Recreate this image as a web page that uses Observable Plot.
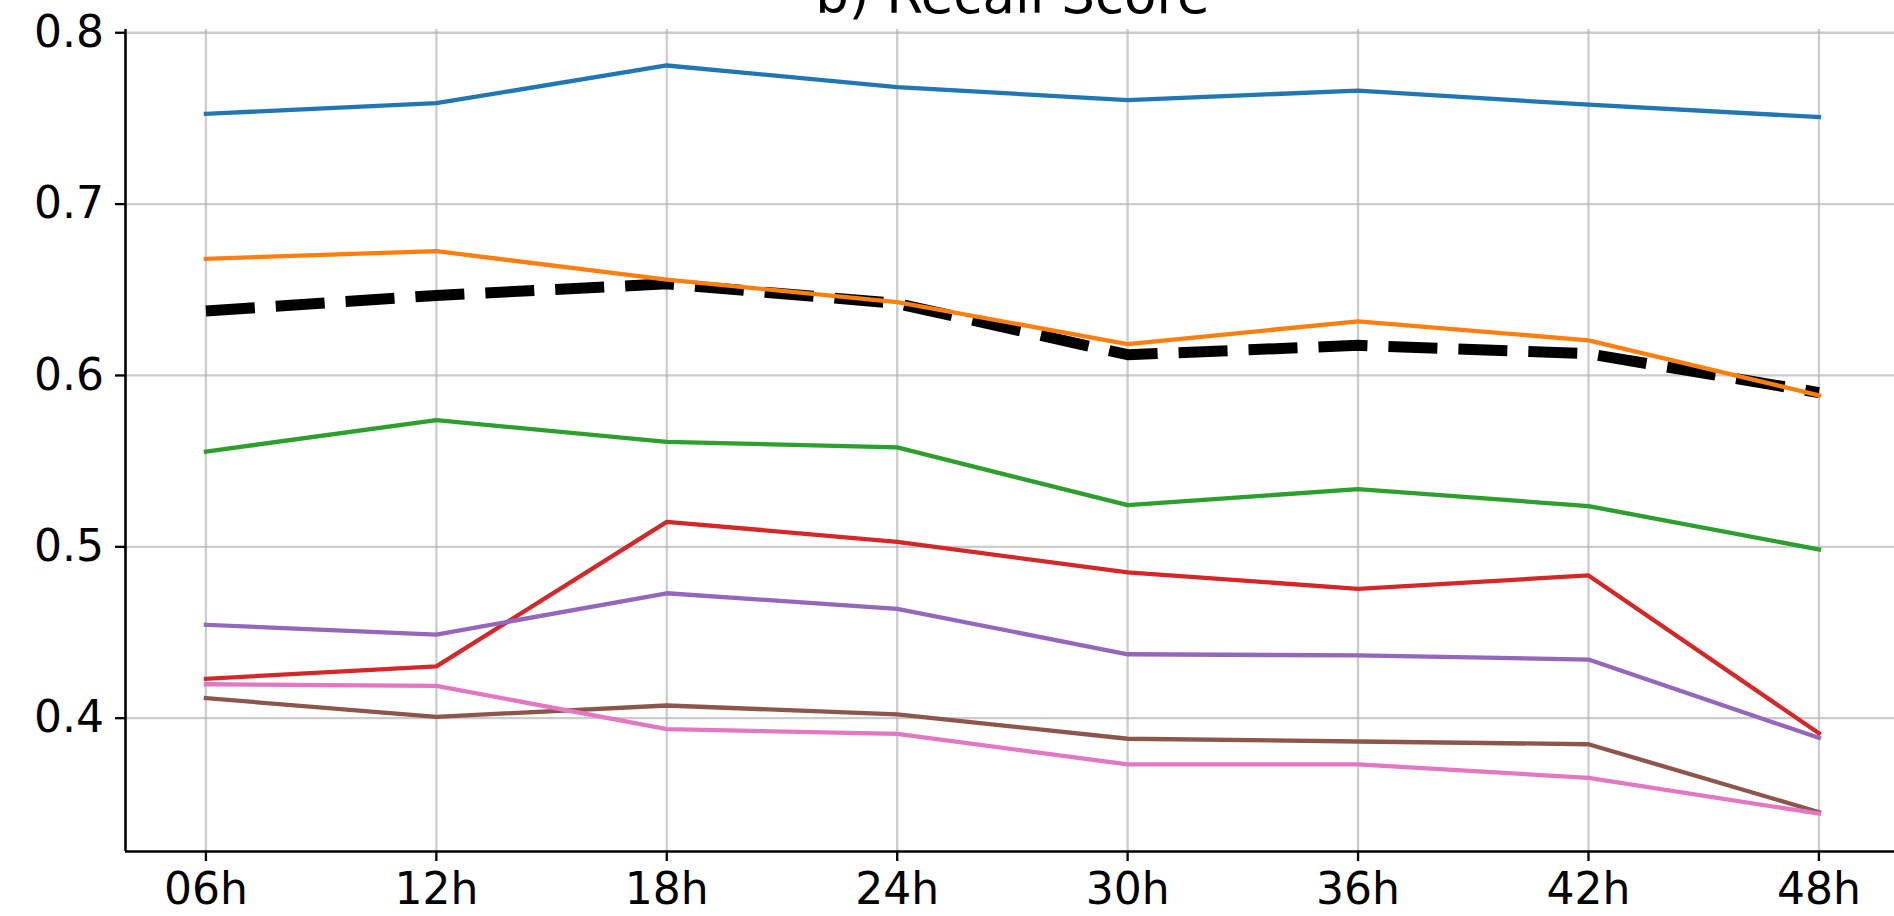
<!DOCTYPE html>
<html>
<head>
<meta charset="utf-8">
<script src="https://cdn.jsdelivr.net/npm/d3@7"></script>
<script src="https://cdn.jsdelivr.net/npm/@observablehq/plot@0.6"></script>
<style>
  html, body { margin: 0; padding: 0; background: #ffffff; overflow: hidden; }
  #chart svg { display: block; max-width: none; }
</style>
</head>
<body>
<div id="chart"></div>
<script>
// ---- data ----
const title = "b) Recall Score";
const hours = ["06h", "12h", "18h", "24h", "30h", "36h", "42h", "48h"];
const yTicks = [0.4, 0.5, 0.6, 0.7, 0.8];

const reference = [0.6376, 0.6467, 0.6535, 0.6420, 0.6121, 0.6176, 0.6127, 0.5900];
const model1 = [0.7527, 0.7589, 0.7809, 0.7683, 0.7607, 0.7662, 0.7580, 0.7508];
const model2 = [0.6681, 0.6726, 0.6559, 0.6428, 0.6183, 0.6316, 0.6205, 0.5884];
const model3 = [0.5556, 0.5739, 0.5613, 0.5580, 0.5243, 0.5337, 0.5238, 0.4985];
const model4 = [0.4230, 0.4302, 0.5146, 0.5029, 0.4851, 0.4755, 0.4833, 0.3912];
const model5 = [0.4545, 0.4488, 0.4729, 0.4638, 0.4373, 0.4366, 0.4342, 0.3885];
const model6 = [0.4117, 0.4008, 0.4074, 0.4022, 0.3880, 0.3864, 0.3848, 0.3452];
const model7 = [0.4198, 0.4189, 0.3936, 0.3909, 0.3730, 0.3730, 0.3652, 0.3443];

const seriesNames = ["Model 1", "Model 2", "Model 3", "Model 4", "Model 5", "Model 6", "Model 7"];
const seriesValues = [model1, model2, model3, model4, model5, model6, model7];
const seriesColors = ["#1f77b4", "#ff7f0e", "#2ca02c", "#d62728", "#9467bd", "#8c564b", "#e377c2"];

// ---- tidy tables built from the arrays ----
const idx = hours.map((_, i) => i);
const refRows = reference.map((v, i) => ({i, v}));
const rows = seriesValues.flatMap((vals, s) => vals.map((v, i) => ({i, v, s: seriesNames[s]})));

const font = "DejaVu Sans, sans-serif";
const xDomain = [-0.349, 7.328];
const yDomain = [0.3222, 0.8019];

const chart = Plot.plot({
  width: 1894,
  height: 916,
  marginLeft: 125,
  marginRight: 0,
  marginTop: 29,
  marginBottom: 65,
  style: {fontFamily: font, background: "#ffffff", color: "#000000"},
  x: {type: "linear", domain: xDomain, label: null},
  y: {type: "linear", domain: yDomain, label: null},
  color: {domain: seriesNames, range: seriesColors},
  marks: [
    Plot.gridX({ticks: idx, stroke: "#b0b0b0", strokeOpacity: 0.65, strokeWidth: 2.3}),
    Plot.gridY({ticks: yTicks, stroke: "#b0b0b0", strokeOpacity: 0.65, strokeWidth: 2.3}),
    Plot.lineY(refRows, {
      x: "i", y: "v", stroke: "#000000", strokeWidth: 11,
      strokeDasharray: "49,21", strokeLinecap: "butt", strokeLinejoin: "round"
    }),
    Plot.lineY(rows, {
      x: "i", y: "v", z: "s", stroke: "s", strokeWidth: 4.3,
      strokeLinecap: "square", strokeLinejoin: "round"
    }),
    Plot.ruleY([yDomain[0]], {stroke: "#000000", strokeWidth: 2.6}),
    Plot.ruleX([xDomain[0]], {stroke: "#000000", strokeWidth: 2.6}),
    Plot.axisX({
      ticks: idx, tickFormat: (i) => hours[i], tickSize: 10, tickPadding: 11,
      fontSize: 44, fill: "#000000", stroke: "#000000", strokeWidth: 2.3, label: null
    }),
    Plot.axisY({
      ticks: yTicks, tickFormat: d3.format(".1f"), tickSize: 10, tickPadding: 11.5,
      fontSize: 44, fill: "#000000", stroke: "#000000", strokeWidth: 2.3, label: null
    }),
    Plot.text([title], {
      x: (hours.length - 1) / 2, frameAnchor: "top", lineAnchor: "bottom", dy: -16.7,
      text: (d) => d, fontSize: 53, fill: "#000000"
    })
  ]
});

document.getElementById("chart").appendChild(chart);
</script>
</body>
</html>
